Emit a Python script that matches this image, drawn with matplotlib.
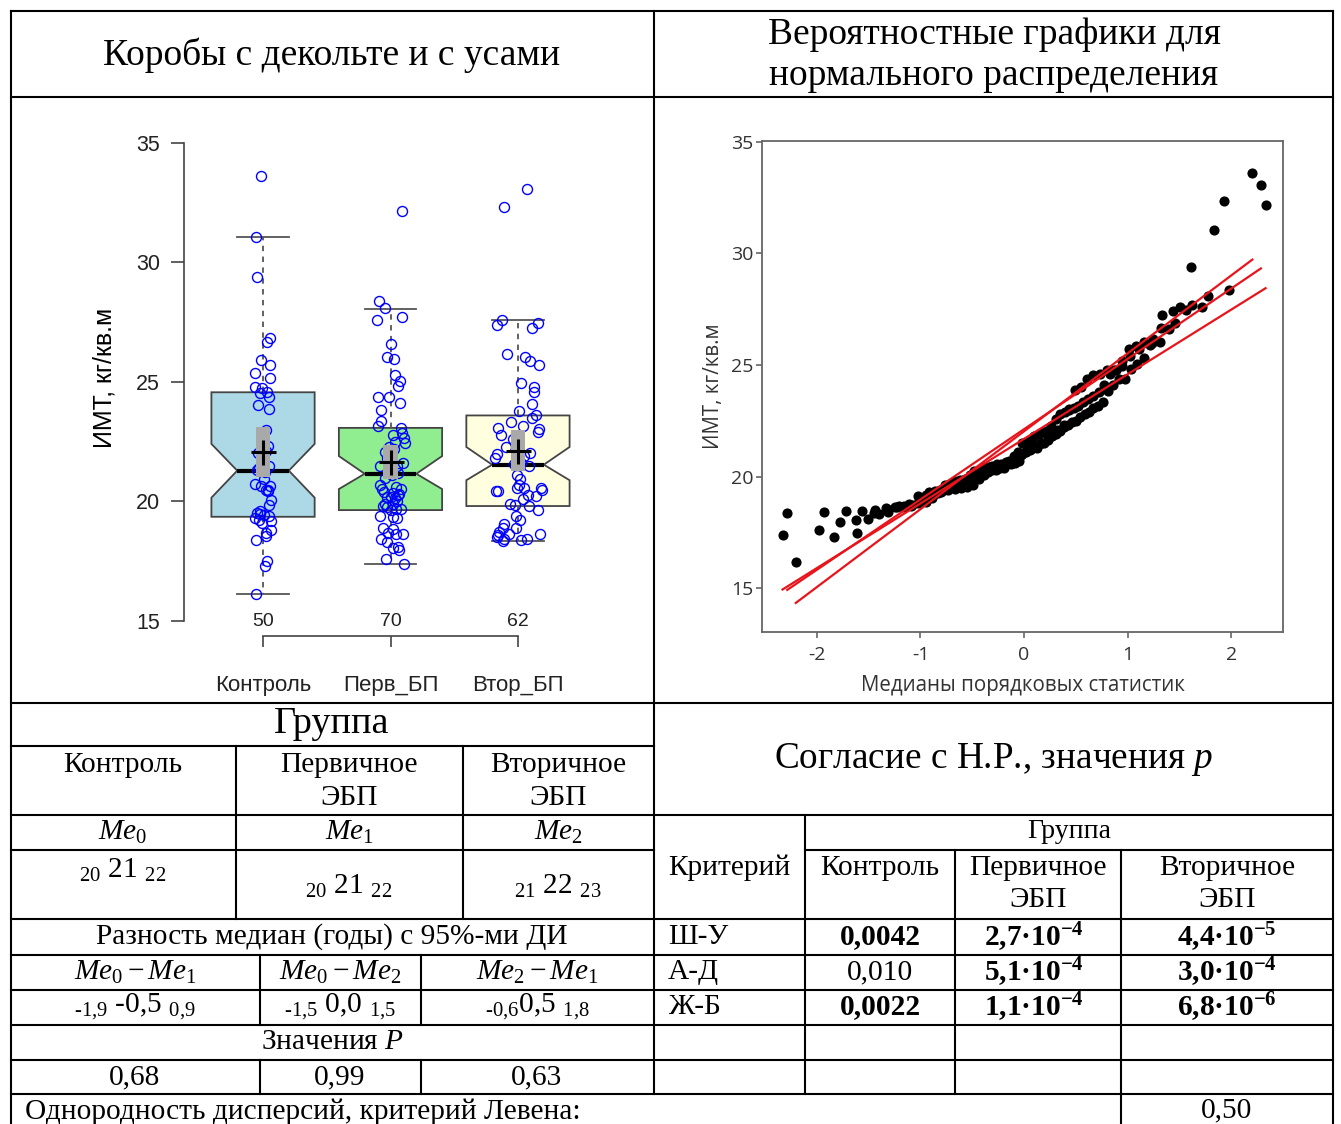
import matplotlib
matplotlib.use("Agg")
import matplotlib.pyplot as plt
import numpy as np
from statistics import NormalDist

plt.rcParams["mathtext.fontset"] = "custom"
plt.rcParams["mathtext.rm"] = "Liberation Serif"
plt.rcParams["mathtext.it"] = "Liberation Serif:italic"
plt.rcParams["mathtext.bf"] = "Liberation Serif:bold"

# ---- data (BMI, kg/m2) ----
groups = ["Контроль", "Перв_БП", "Втор_БП"]
counts = [50, 70, 62]

ctrl_bmi = [33.62, 31.07, 29.4, 26.86, 26.66, 25.9, 25.71, 25.38, 25.16, 24.78,
            24.76, 24.55, 24.37, 24.02, 23.88, 23.0, 22.32, 22.03, 21.33, 20.95,
            20.72, 20.63, 20.63, 20.47, 20.44, 20.08, 19.87, 19.52, 19.49, 19.45,
            19.32, 19.21, 19.17, 19.11, 18.79, 18.68, 18.54, 18.37, 17.49, 17.28,
            16.15, 24.6, 22.1, 21.9, 21.5, 21.4, 21.25, 20.5, 19.6, 19.4]
ctrl_jit = [-0.018, -0.058, -0.047, 0.055, 0.031, -0.018, 0.052, -0.060, 0.052, -0.060,
            -0.008, -0.021, 0.050, -0.039, 0.047, 0.021, 0.039, -0.039, -0.044, 0.008,
            -0.060, -0.018, 0.058, 0.026, 0.039, 0.065, 0.047, -0.047, -0.026, 0.008,
            -0.065, -0.031, 0.060, -0.008, 0.065, 0.026, 0.021, -0.058, 0.034, 0.018,
            -0.052, 0.030, 0.020, -0.010, 0.045, -0.030, 0.012, 0.040, -0.020, 0.050]

perv_bmi = [32.15, 28.37, 28.09, 27.6, 27.7, 26.6, 26.04, 25.97, 25.3, 25.03,
            24.82, 24.37, 24.37, 24.11, 23.83, 23.36, 23.17, 23.08, 22.87, 22.66,
            22.45, 22.5, 22.06, 21.62, 21.48, 21.27, 21.0, 20.71, 20.54, 20.54,
            20.36, 20.27, 20.18, 20.13, 19.9, 19.77, 19.67, 19.63, 19.39, 19.35,
            19.32, 18.9, 18.83, 18.65, 18.62, 18.42, 18.32, 18.04, 17.96, 17.61,
            17.4, 22.8, 22.3, 22.2, 21.9, 21.8, 21.5, 21.3, 21.2, 21.1,
            20.6, 20.4, 20.3, 20.2, 20.0, 19.9, 19.8, 19.7, 18.7, 18.1]
perv_jit = [0.092, -0.094, -0.044, -0.107, 0.092, 0.005, -0.031, 0.024, 0.037, 0.078,
            0.058, -0.097, -0.013, 0.076, -0.071, -0.078, -0.097, 0.084, 0.089, 0.105,
            0.112, 0.039, -0.042, 0.097, -0.084, -0.016, -0.044, -0.084, -0.063, 0.086,
            0.016, 0.060, 0.003, 0.037, -0.044, -0.031, 0.086, 0.003, -0.084, 0.016,
            0.052, -0.058, 0.021, 0.047, 0.099, -0.076, -0.026, 0.016, 0.068, -0.037,
            0.105, 0.020, -0.010, 0.030, 0.000, -0.030, 0.050, -0.020, 0.060, 0.010,
            0.040, -0.050, 0.070, -0.030, 0.050, 0.020, -0.060, 0.040, -0.020, 0.060]

vtor_bmi = [33.07, 32.34, 27.6, 27.4, 27.46, 27.25, 26.18, 26.03, 25.87, 25.72,
            24.97, 24.79, 24.58, 24.09, 23.8, 23.6, 23.49, 23.32, 23.16, 23.09,
            23.04, 22.79, 22.89, 22.28, 22.0, 21.82, 22.04, 21.5, 21.09, 20.93,
            20.44, 20.43, 20.58, 20.58, 20.57, 20.47, 20.29, 20.23, 20.09, 19.91,
            19.84, 19.8, 19.63, 19.4, 19.24, 19.05, 18.87, 18.87, 18.73, 18.66,
            18.62, 18.52, 18.45, 18.45, 18.35, 18.59, 21.6, 21.55, 21.9, 20.7,
            22.6, 18.4]
vtor_jit = [0.068, -0.107, -0.125, -0.165, 0.154, 0.107, -0.089, 0.058, 0.092, 0.162,
            0.024, 0.123, 0.128, 0.112, 0.005, 0.141, 0.107, -0.052, 0.039, -0.157,
            0.165, -0.136, 0.159, -0.094, -0.165, -0.180, 0.097, 0.089, -0.010, 0.018,
            -0.173, -0.159, -0.010, 0.050, 0.178, 0.186, 0.076, 0.141, 0.037, -0.060,
            -0.024, 0.089, 0.154, -0.016, 0.013, -0.107, -0.120, -0.016, -0.146, -0.068,
            0.175, -0.165, -0.107, 0.068, -0.120, -0.159, 0.020, -0.030, 0.050, 0.010,
            -0.040, 0.020]

# box statistics as drawn (notched boxes, mean with its CI)
q1 = [19.36, 19.64, 19.81]
med = [21.29, 21.16, 21.54]
q3 = [24.57, 23.08, 23.60]
whislo = [16.15, 17.40, 18.35]
whishi = [31.07, 28.06, 27.60]
notch_lo = [20.16, 20.52, 20.89]
notch_hi = [22.41, 21.90, 22.28]
mean_val = [22.05, 21.64, 22.10]
mean_lo = [21.03, 20.96, 21.28]
mean_hi = [23.12, 22.38, 22.98]
box_colors = ["#ADD8E6", "#90EE90", "#FFFFE0"]

W, H = 1341, 1124
fig = plt.figure(figsize=(W / 100, H / 100), dpi=100)


def px_axes(l, t, r, b):
    return fig.add_axes([l / W, 1 - b / H, (r - l) / W, (b - t) / H])


# ---------------- notched box plot ----------------
ax = px_axes(184, 120, 597, 636)
stats = []
for i in range(3):
    stats.append(dict(med=med[i], q1=q1[i], q3=q3[i], whislo=whislo[i], whishi=whishi[i],
                      cilo=notch_lo[i], cihi=notch_hi[i], fliers=[], mean=mean_val[i]))
bp = ax.bxp(stats, positions=[1, 2, 3], widths=0.81, shownotches=True, patch_artist=True,
            showfliers=False,
            boxprops=dict(edgecolor="#444444", linewidth=1.3),
            whiskerprops=dict(color="#555555", linewidth=1.3, linestyle=(0, (3, 3))),
            capprops=dict(color="#555555", linewidth=1.3),
            medianprops=dict(color="black", linewidth=3))
for patch, c in zip(bp["boxes"], box_colors):
    patch.set_facecolor(c)

for i, (vals, jit) in enumerate([(ctrl_bmi, ctrl_jit), (perv_bmi, perv_jit), (vtor_bmi, vtor_jit)]):
    ax.plot(i + 1 + np.array(jit), vals, "o", mfc="none", mec="#0000FF", ms=7.2, mew=1.0, zorder=4)

for i in range(3):
    ax.add_patch(plt.Rectangle((i + 1 - 0.055, mean_lo[i]), 0.11, mean_hi[i] - mean_lo[i],
                               facecolor="#A9A9A9", edgecolor="none", zorder=5))
    ax.plot(i + 1, mean_val[i], "+", color="black", ms=18, mew=2.2, zorder=6)
    ax.text(i + 1, 14.98, str(counts[i]), ha="center", va="center", fontsize=14,
            family="Liberation Sans", color="#222222")

ax.set_xlim(0.38, 3.62)
ax.set_ylim(14.372, 35.962)
for s in ["top", "right"]:
    ax.spines[s].set_visible(False)
ax.spines["left"].set_bounds(15, 35)
ax.spines["bottom"].set_bounds(1, 3)
for s in ["left", "bottom"]:
    ax.spines[s].set_color("#444444")
    ax.spines[s].set_linewidth(1.2)
ax.set_yticks([15, 20, 25, 30, 35])
ax.set_xticks([1, 2, 3])
ax.set_xticklabels(groups)
ax.tick_params(axis="y", length=9.4, width=1.2, color="#444444", pad=8, labelsize=15.5)
ax.tick_params(axis="x", length=8, width=1.2, color="#444444", pad=20, labelsize=16)
for lab in ax.get_xticklabels() + ax.get_yticklabels():
    lab.set_family("Liberation Sans")
    lab.set_color("#222222")
ax.set_ylabel("ИМТ, кг/кв.м", fontsize=18, family="Liberation Sans", labelpad=14)
ax.patch.set_alpha(0)

# ---------------- normal probability plot ----------------
qx = px_axes(762, 141, 1283, 632)


def order_stat_medians(n):
    m = (np.arange(1, n + 1) - 0.3175) / (n + 0.365)
    m[-1] = 0.5 ** (1.0 / n)
    m[0] = 1 - m[-1]
    return np.array([NormalDist().inv_cdf(p) for p in m])


for vals in [ctrl_bmi, perv_bmi, vtor_bmi]:
    y = np.sort(vals)
    x = order_stat_medians(len(y))
    qx.plot(x, y, "o", color="black", ms=6.3, zorder=3)
for vals in [ctrl_bmi, perv_bmi, vtor_bmi]:
    y = np.sort(vals)
    x = order_stat_medians(len(y))
    k, b = np.polyfit(x, y, 1)
    qx.plot([x[0], x[-1]], [k * x[0] + b, k * x[-1] + b], color="#E8141B", lw=1.6, zorder=4)

qx.set_xlim(-2.53, 2.50)
qx.set_ylim(13.03, 35.04)
qx.set_xticks([-2, -1, 0, 1, 2])
qx.set_xticklabels(["-2", "-1", "0", "1", "2"])
qx.set_yticks([15, 20, 25, 30, 35])
for s in qx.spines.values():
    s.set_color("#666666")
    s.set_linewidth(1.3)
qx.tick_params(length=4, width=1.2, color="#666666", labelsize=14, labelcolor="#333333")
qx.tick_params(axis="x", pad=6)
qx.tick_params(axis="y", pad=2)
for lab in qx.get_xticklabels() + qx.get_yticklabels():
    lab.set_family("Open Sans")
qx.set_xlabel("Медианы порядковых статистик", fontsize=14.8, family="Open Sans", color="#333333", labelpad=8)
qx.set_ylabel("ИМТ, кг/кв.м", fontsize=14.8, family="Open Sans", color="#333333", labelpad=5)

# ---------------- table frame and text ----------------
tb = fig.add_axes([0, 0, 1, 1], zorder=-1)
tb.set_xlim(0, W)
tb.set_ylim(H, 0)
tb.axis("off")

hlines = [(11, 11, 1333), (97, 11, 1333), (703, 11, 1333), (746, 11, 654), (815, 11, 1333),
          (850, 11, 654), (850, 805, 1333), (919, 11, 1333), (955, 11, 1333), (990, 11, 1333),
          (1025, 11, 1333), (1060, 11, 1333), (1094, 11, 1333)]
vlines = [(11, 11, 1124), (1333, 11, 1124), (654, 11, 1094), (236, 746, 919), (463, 746, 919),
          (260, 955, 1025), (421, 955, 1025), (260, 1060, 1094), (421, 1060, 1094),
          (805, 815, 1094), (955, 850, 1094), (1121, 850, 1124)]
for y, x0, x1 in hlines:
    tb.plot([x0, x1], [y, y], color="black", lw=1.5, solid_capstyle="projecting")
for x, y0, y1 in vlines:
    tb.plot([x, x], [y0, y1], color="black", lw=1.5, solid_capstyle="projecting")

SERIF = "Liberation Serif"
BODY = 21.2
BIG = 27


def put(x, y, s, size=BODY, ha="center", **kw):
    fig.text(x / W, 1 - y / H, s, ha=ha, va="center", fontsize=size, family=SERIF, **kw)


put(332, 55, "Коробы с декольте и с усами", BIG)
put(994, 35, "Вероятностные графики для", BIG)
put(994, 76, "нормального распределения", BIG)

put(332, 724, "Группа", 27.5)
put(123, 765, "Контроль")
put(349, 765, "Первичное")
put(349, 798, "ЭБП")
put(558, 765, "Вторичное")
put(558, 798, "ЭБП")
put(123, 832, r"$Me_0$")
put(349, 832, r"$Me_1$")
put(558, 832, r"$Me_2$")
put(123, 870, r"${}_{20}$ 21 ${}_{22}$")
put(349, 886, r"${}_{20}$ 21 ${}_{22}$")
put(558, 886, r"${}_{21}$ 22 ${}_{23}$")
put(332, 937, "Разность медиан (годы) с 95%-ми ДИ")
put(135, 972, r"$Me_0 - Me_1$")
put(340, 972, r"$Me_0 - Me_2$")
put(537, 972, r"$Me_2 - Me_1$")
put(135, 1007, r"${}_{‐1{,}9}$ -0,5 ${}_{0{,}9}$")
put(340, 1007, r"${}_{‐1{,}5}$ 0,0 ${}_{1{,}5}$")
put(537, 1007, r"${}_{‐0{,}6}$0,5 ${}_{1{,}8}$")
put(332, 1042, r"Значения $P$")
put(135, 1077, "0,68")
put(340, 1077, "0,99")
put(537, 1077, "0,63")
put(25, 1112, "Однородность дисперсий, критерий Левена:", ha="left")
put(1227, 1110, "0,50")

put(994, 760, r"Согласие с Н.Р., значения $p$", 26.8)
put(1069, 832, "Группа", 20)
put(729, 868, "Критерий")
put(880, 868, "Контроль")
put(1038, 868, "Первичное")
put(1038, 900, "ЭБП")
put(1227, 868, "Вторичное")
put(1227, 900, "ЭБП")
put(668, 937, "Ш-У", ha="left")
put(668, 972, "А-Д", ha="left")
put(668, 1007, "Ж-Б", ha="left")
put(880, 937, "0,0042", weight="bold")
put(1034, 937, r"$\mathbf{2{,}7·10^{-4}}$")
put(1227, 937, r"$\mathbf{4{,}4·10^{-5}}$")
put(880, 972, "0,010")
put(1034, 972, r"$\mathbf{5{,}1·10^{-4}}$")
put(1227, 972, r"$\mathbf{3{,}0·10^{-4}}$")
put(880, 1007, "0,0022", weight="bold")
put(1034, 1007, r"$\mathbf{1{,}1·10^{-4}}$")
put(1227, 1007, r"$\mathbf{6{,}8·10^{-6}}$")

fig.savefig("out.png", dpi=100)
